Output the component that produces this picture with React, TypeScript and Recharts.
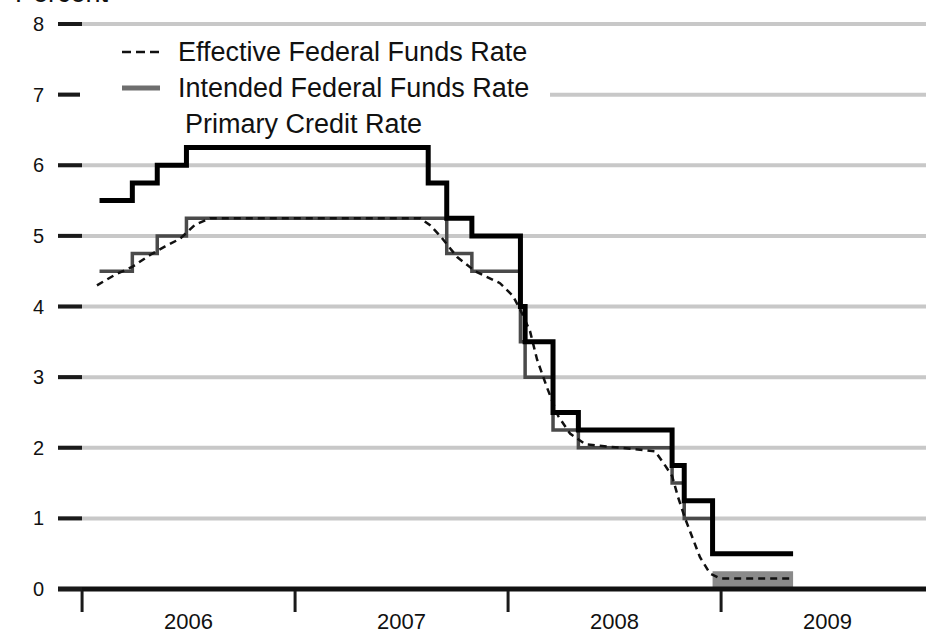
import { CartesianGrid, Line, LineChart, ReferenceArea, XAxis, YAxis } from "recharts";

// policy change dates as fractional years
const primaryDates = [
  2006.082, 2006.236, 2006.353, 2006.49, 2007.625, 2007.712, 2007.83, 2008.058, 2008.08, 2008.211,
  2008.33, 2008.77, 2008.827, 2008.96, 2009.338,
];
const primaryRates = [5.5, 5.75, 6.0, 6.25, 5.75, 5.25, 5.0, 4.0, 3.5, 2.5, 2.25, 1.75, 1.25, 0.5, 0.5];

const intendedDates = [
  2006.082, 2006.236, 2006.353, 2006.49, 2007.712, 2007.83, 2008.058, 2008.08, 2008.211, 2008.33,
  2008.77, 2008.827, 2008.96,
];
const intendedRates = [4.5, 4.75, 5.0, 5.25, 4.75, 4.5, 3.5, 3.0, 2.25, 2.0, 1.5, 1.0, 1.0];

const effectiveDates = [
  2006.07, 2006.155, 2006.235, 2006.319, 2006.39, 2006.46, 2006.531, 2006.601, 2007.587, 2007.634,
  2007.681, 2007.761, 2007.845, 2007.962, 2008.023, 2008.066, 2008.103, 2008.136, 2008.183, 2008.235,
  2008.291, 2008.362, 2008.69, 2008.737, 2008.77, 2008.798, 2008.831, 2008.869, 2008.901, 2008.948,
  2008.995, 2009.338,
];
const effectiveRates = [
  4.3, 4.45, 4.56, 4.73, 4.85, 4.96, 5.16, 5.25, 5.25, 5.15,
  5.0, 4.7, 4.5, 4.33, 4.15, 3.9, 3.65, 3.25, 2.85, 2.45,
  2.2, 2.05, 1.95, 1.75, 1.6, 1.3, 1.0, 0.7, 0.45, 0.22,
  0.15, 0.15,
];

// 0-0.25 target range after Dec 2008
const targetRangeDates = [2008.96, 2009.338];
const targetRange = [0, 0.25];

const yearTicks = [2006, 2006.5, 2007, 2007.5, 2008, 2008.5, 2009, 2009.5];
const percentTicks = [0, 1, 2, 3, 4, 5, 6, 7, 8];

const legendItems = [
  { label: "Effective Federal Funds Rate", symbol: "dash" },
  { label: "Intended Federal Funds Rate", symbol: "grey" },
  { label: "Primary Credit Rate", symbol: "none" },
];

const primaryData = primaryDates.map((t, i) => ({ t, v: primaryRates[i] }));
const intendedData = intendedDates.map((t, i) => ({ t, v: intendedRates[i] }));
const effectiveData = effectiveDates.map((t, i) => ({ t, v: effectiveRates[i] }));

const FONT = "'Liberation Sans', Arial, sans-serif";

function YTick(props: any) {
  const { x, y, payload } = props;
  return (
    <g>
      <line x1={x} x2={x + 24} y1={y} y2={y} stroke="#1a1a1a" strokeWidth={4} />
      <text x={x - 14} y={y} dy={7} textAnchor="end" fontFamily={FONT} fontSize={20} fill="#111">
        {payload.value}
      </text>
    </g>
  );
}

function XTick(props: any) {
  const { x, y, payload } = props;
  if (Number.isInteger(payload.value)) {
    return <line x1={x} x2={x} y1={y} y2={y + 21} stroke="#1a1a1a" strokeWidth={3} />;
  }
  return (
    <text x={x} y={y + 38} textAnchor="middle" fontFamily={FONT} fontSize={22} fill="#111">
      {Math.floor(payload.value)}
    </text>
  );
}

function LegendBox() {
  return (
    <div
      style={{
        position: "absolute",
        left: 80,
        top: 33,
        width: 470,
        height: 104,
        background: "#fff",
        fontFamily: FONT,
      }}
    >
      {legendItems.map((item, i) => (
        <div
          key={item.label}
          style={{
            position: "absolute",
            left: 42,
            top: 19 + i * 36 - 16,
            height: 32,
            display: "flex",
            alignItems: "center",
          }}
        >
          <svg width={56} height={10} style={{ marginRight: item.symbol === "none" ? 7 : 0 }}>
            {item.symbol === "dash" && (
              <line x1={0} x2={37} y1={5} y2={5} stroke="#111" strokeWidth={2.5} strokeDasharray="9 5" />
            )}
            {item.symbol === "grey" && <line x1={0} x2={38} y1={5} y2={5} stroke="#6e6e6e" strokeWidth={5} />}
          </svg>
          <span style={{ fontSize: 27, color: "#111", whiteSpace: "nowrap" }}>{item.label}</span>
        </div>
      ))}
    </div>
  );
}

export default function App() {
  return (
    <div style={{ position: "absolute", left: 0, top: 0, width: 926, height: 634, background: "#fff" }}>
      <LineChart
        width={926}
        height={634}
        margin={{ top: 24, right: 0, bottom: 0, left: 0 }}
        style={{ fontFamily: FONT }}
      >
        <text x={15} y={2} fontFamily={FONT} fontSize={27} fill="#111">
          Percent
        </text>
        <CartesianGrid horizontal vertical={false} stroke="#c8c8c8" strokeWidth={4} />
        <XAxis
          type="number"
          dataKey="t"
          domain={[2005.887, 2009.962]}
          ticks={yearTicks}
          interval={0}
          height={45}
          axisLine={{ stroke: "#111", strokeWidth: 5 }}
          tickLine={false}
          tickSize={0}
          tick={<XTick />}
          allowDuplicatedCategory={false}
        />
        <YAxis
          type="number"
          domain={[0, 8]}
          ticks={percentTicks}
          interval={0}
          width={58}
          axisLine={false}
          tickLine={false}
          tickSize={0}
          tickMargin={0}
          tick={<YTick />}
        />
        <ReferenceArea
          x1={targetRangeDates[0]}
          x2={targetRangeDates[1]}
          y1={targetRange[0]}
          y2={targetRange[1]}
          fill="#8a8a8a"
          fillOpacity={1}
          stroke="none"
        />
        <Line
          data={intendedData}
          dataKey="v"
          type="stepAfter"
          stroke="#4a4a4a"
          strokeWidth={3.5}
          dot={false}
          isAnimationActive={false}
          name="Intended Federal Funds Rate"
        />
        <Line
          data={effectiveData}
          dataKey="v"
          type="linear"
          stroke="#111"
          strokeWidth={2.5}
          strokeDasharray="7 5"
          dot={false}
          isAnimationActive={false}
          name="Effective Federal Funds Rate"
        />
        <Line
          data={primaryData}
          dataKey="v"
          type="stepAfter"
          stroke="#000"
          strokeWidth={5}
          dot={false}
          isAnimationActive={false}
          name="Primary Credit Rate"
        />
      </LineChart>
      <LegendBox />
    </div>
  );
}
